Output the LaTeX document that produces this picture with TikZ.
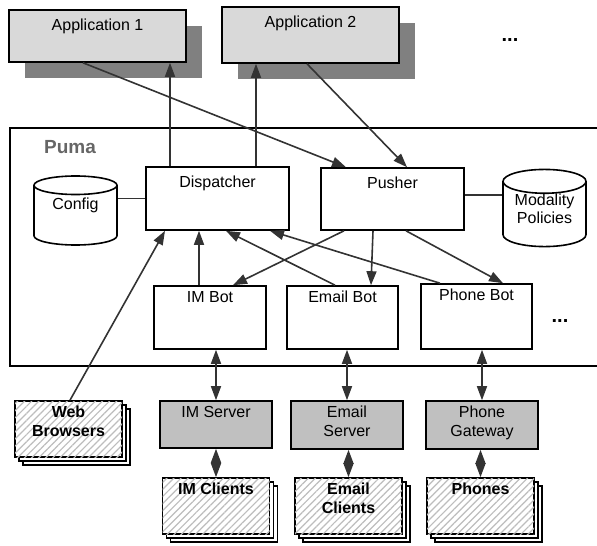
\documentclass[tikz,border=0pt]{standalone}
\usepackage{fontspec}
\setmainfont{Liberation Sans}
\usetikzlibrary{arrows.meta,shapes.geometric,shadows,patterns.meta}

\definecolor{appgray}{HTML}{D9D9D9}
\definecolor{srvgray}{HTML}{C0C0C0}
\definecolor{shadegray}{HTML}{808080}
\definecolor{linegray}{HTML}{333333}
\definecolor{hatchgray}{HTML}{BDBDBD}
\definecolor{pumagray}{HTML}{666666}

\newcommand\normsize{\fontsize{16}{19}\selectfont}

\tikzset{
  comp/.style={draw, line width=1.6pt, fill=white, inner sep=0pt},
  lbl/.style={anchor=north, align=center, inner sep=0pt, yshift=-6pt},
  title/.style={label={[lbl]north:#1}},
  ttitle/.style={label={[lbl, yshift=-4pt]north:#1}},
  ctitle/.style={label={[lbl, font=\normsize\bfseries]north:#1}},
  app/.style={comp, fill=appgray, minimum width=177pt,
    drop shadow={shadow xshift=16pt, shadow yshift=-16pt, fill=shadegray, opacity=1, draw=none}},
  bot/.style={comp, minimum width=112pt, minimum height=63pt},
  server/.style={comp, fill=srvgray, minimum width=112pt, minimum height=48pt},
  client/.style={comp, minimum width=107pt, minimum height=56pt,
    double copy shadow={shadow xshift=4pt, shadow yshift=-4pt, fill=white},
    postaction={pattern={Lines[angle=45, distance=5pt, line width=1.2pt]}, pattern color=hatchgray}},
  store/.style={cylinder, shape border rotate=90, draw, line width=1.6pt, fill=white,
    aspect=0.4, minimum width=83pt, minimum height=69pt, align=center, inner sep=0pt,
    anchor=shape center},
  arr/.style={draw=linegray, line width=1.6pt, ->},
  biarr/.style={arr, <->},
}

\begin{document}
\begin{tikzpicture}[x=1pt, y=-1pt, font=\normsize, >={Triangle[length=14pt, width=10pt]}]
  \clip (0,0) rectangle (597,546);

  % applications
  \node[app, minimum height=52pt, ttitle=Application 1] (app1) at (97.5,36) {};
  \node[app, minimum height=56pt, ttitle=Application 2] (app2) at (310.5,35) {};
  \node[font=\fontsize{20}{24}\selectfont\bfseries] (moreapps) at (510,40) {...};

  % puma
  \node[draw, line width=1.8pt, minimum width=620pt, minimum height=238pt] (puma) at (320,247) {};
  \node[font=\fontsize{19}{22}\selectfont\bfseries, text=pumagray] (pumatxt) at (70,147) {Puma};

  \node[store, text depth=24pt] (config) at (75.5,210.5) {Config};
  \node[bot, minimum width=143pt, ttitle=Dispatcher] (disp) at (217.5,198.5) {};
  \node[bot, minimum width=143pt, minimum height=62pt, ttitle=Pusher] (push) at (392.5,199) {};
  \node[store, minimum height=66pt, text depth=11pt, font=\fontsize{16}{18}\selectfont] (modal) at (544.5,208) {Modality\\Policies};

  \node[bot, title=IM Bot] (imbot) at (210,317.5) {};
  \node[bot, minimum width=111pt, title=Email Bot] (emailbot) at (342.5,317.5) {};
  \node[bot, minimum width=111pt, minimum height=65pt, title=Phone Bot] (phonebot) at (476.5,316.5) {};
  \node[font=\fontsize{20}{24}\selectfont\bfseries] (morebots) at (560,321) {...};

  % outside
  \node[client, ctitle={Web\\Browsers}] (web) at (68.5,429) {};
  \node[server, minimum height=47pt, title=IM Server] (imsrv) at (216,424.5) {};
  \node[server, title={Email\\Server}] (emailsrv) at (347,425) {};
  \node[server, title={Phone\\Gateway}] (phonegw) at (482,425) {};
  \node[client, ctitle=IM Clients] (imcl) at (216,506) {};
  \node[client, ctitle={Email\\Clients}] (emailcl) at (348.5,506) {};
  \node[client, ctitle=Phones] (phones) at (480.5,506) {};

  % stores
  \draw[linegray, line width=1.4pt] (disp.west) -- (config.east |- disp.west);
  \draw[linegray, line width=1.4pt] ([yshift=4pt]push.east) -- ([yshift=4pt]modal.west |- push.east);

  % dispatcher up, apps to pusher
  \draw[arr] ([xshift=-47.5pt]disp.north) -- ([xshift=-47.5pt]disp.north |- app1.south);
  \draw[arr] ([xshift=38.5pt]disp.north) -- ([xshift=38.5pt]disp.north |- app2.south);
  \draw[arr] ([xshift=-14.5pt]app1.south) -- ([xshift=-46.5pt]push.north);
  \draw[arr] ([xshift=-3.5pt]app2.south) -- ([xshift=14.5pt]push.north);

  % pusher to bots
  \draw[arr] ([xshift=-48.5pt]push.south) -- ([xshift=23pt]imbot.north);
  \draw[arr] ([xshift=-19.5pt]push.south) -- ([xshift=28.5pt]emailbot.north);
  \draw[arr] ([xshift=13.5pt]push.south) -- ([xshift=26.5pt]phonebot.north);

  % bots to dispatcher
  \draw[arr] ([xshift=-11pt]imbot.north) -- ([xshift=-11pt]imbot.north |- disp.south);
  \draw[arr] ([xshift=-7.5pt]emailbot.north) -- ([xshift=8.5pt]disp.south);
  \draw[arr] ([xshift=-36.5pt]phonebot.north) -- ([xshift=52.5pt]disp.south);
  \draw[arr] ([xshift=1.5pt]web.north) -- ([xshift=-52.5pt]disp.south);

  % bots to servers to clients
  \draw[biarr] (imsrv.north) -- (imsrv.north |- imbot.south);
  \draw[biarr] (emailsrv.north) -- (emailsrv.north |- emailbot.south);
  \draw[biarr] (phonegw.north) -- (phonegw.north |- phonebot.south);
  \draw[biarr] (imcl.north) -- (imcl.north |- imsrv.south);
  \draw[biarr] (emailcl.north) -- (emailcl.north |- emailsrv.south);
  \draw[biarr] (phones.north) -- (phones.north |- phonegw.south);
\end{tikzpicture}
\end{document}
